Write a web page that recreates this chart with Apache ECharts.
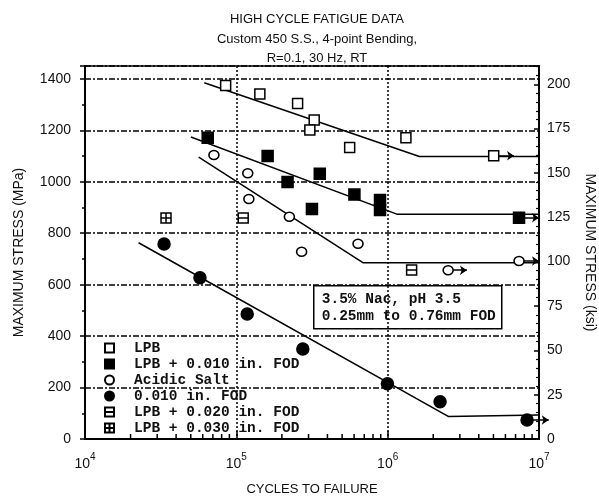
<!DOCTYPE html>
<html><head><meta charset="utf-8">
<script src="https://cdn.jsdelivr.net/npm/echarts@6/dist/echarts.min.js"></script>
<style>html,body{margin:0;padding:0;background:#fff}#c{width:599px;height:502px}</style>
</head><body><div id="c"></div>
<script>
// ---- data (cycles, MPa) ----
const lpb      = [[8.5e4,1374],[1.43e5,1341],[2.54e5,1304],[3.27e5,1240],[3.06e5,1201],[5.61e5,1133],[1.32e6,1171],[5.02e6,1101]];
const lpbFod10 = [[6.47e4,1171],[1.61e5,1100],[2.18e5,999],[3.56e5,1031],[3.16e5,894],[6.03e5,950],[8.9e5,929],[8.9e5,890],[7.38e6,860]];
const acidic   = [[7.11e4,1104],[1.19e5,1033],[1.21e5,933],[2.24e5,864],[2.70e5,728],[6.37e5,759],[2.51e6,656],[7.38e6,692]];
const fod10    = [[3.33e4,758],[5.75e4,627],[1.18e5,486],[2.75e5,350],[9.96e5,215],[2.22e6,145],[8.34e6,74]];
const lpbFod20 = [[1.11e5,859],[1.44e6,657]];
const lpbFod30 = [[3.43e4,859]];
// fitted curves (vertices)
const fitLpb      = [[6.14e4,1385],[1.62e6,1098],[1e7,1098]];
const fitLpbFod10 = [[5.01e4,1174],[1.15e6,874],[1e7,874]];
const fitAcidic   = [[5.64e4,1096],[6.9e5,685],[1e7,685]];
const fitFod10    = [[2.26e4,763],[2.53e6,87],[1e7,93]];
// run-out arrows: [start cycles, MPa, end cycles]
const runouts = [[5.02e6,1101,6.84e6],[7.38e6,860,1e7],[2.51e6,656,3.34e6],[7.38e6,692,1e7],[8.34e6,74,1.16e7]];
// axes
const xDecades = [4,5,6,7];
const yMax = 1450;
const MPA_PER_KSI = 6.894757;
const legendNames = ['LPB','LPB + 0.010 in. FOD','Acidic Salt','0.010 in. FOD','LPB + 0.020 in. FOD','LPB + 0.030 in. FOD'];
const title = 'HIGH CYCLE FATIGUE DATA\nCustom 450 S.S., 4-point Bending,\nR=0.1, 30 Hz, RT';
const note = '3.5% Nac, pH 3.5\n0.25mm to 0.76mm FOD';

const minorTicks = [];
for (let d = xDecades[0]; d < xDecades[xDecades.length-1]; d++) {
  for (let m = 2; m <= 9; m++) minorTicks.push(m * Math.pow(10, d));
}

const chart = echarts.init(document.getElementById('c'));
const monoFont = '"Liberation Mono", monospace';
const sansFont = '"Liberation Sans", Arial, sans-serif';
const blk = '#000';

function scatter(name, data, symbol, size, fill) {
  return {
    name, type: 'scatter', data, symbol, symbolSize: size, z: 5,
    itemStyle: { color: fill, borderColor: blk, borderWidth: 1.5, opacity: 1 },
    emphasis: { disabled: true }, silent: true
  };
}
function fit(data) {
  return { type: 'line', data, showSymbol: false, symbol: 'none', z: 3, silent: true,
    lineStyle: { color: blk, width: 1.5 }, clip: false };
}

chart.setOption({
  animation: false,
  backgroundColor: '#fff',
  title: {
    text: title, left: 312, top: 5, textAlign: 'center',
    textStyle: { fontFamily: sansFont, fontSize: 13, fontWeight: 'normal', color: '#111', lineHeight: 19.5 }
  },
  grid: { left: 85, right: 60, top: 66, bottom: 63, show: true, borderColor: blk, borderWidth: 1.5,
    backgroundColor: 'transparent', containLabel: false, outerBoundsMode: 'none' },
  legend: {
    data: legendNames, orient: 'vertical', left: 99, top: 335,
    itemWidth: 9, itemHeight: 9, itemGap: 0, selectedMode: false,
    textStyle: { fontFamily: monoFont, fontWeight: 'bold', fontSize: 14.5, color: '#111', lineHeight: 16, padding: [0,0,0,15] }
  },
  xAxis: {
    type: 'log', logBase: 10, min: Math.pow(10, xDecades[0]), max: Math.pow(10, xDecades[xDecades.length-1]),
    name: 'CYCLES TO FAILURE', nameLocation: 'middle', nameGap: 44,
    nameTextStyle: { fontFamily: sansFont, fontSize: 13, color: '#111' },
    axisLine: { lineStyle: { color: blk, width: 2 } },
    axisTick: { inside: true, length: 8, lineStyle: { color: blk, width: 1.5 } },
    minorTick: { show: false },
    axisLabel: {
      margin: 13, color: '#111', fontFamily: sansFont, fontSize: 14,
      formatter: v => '10{s|' + Math.round(Math.log10(v)) + '}',
      rich: { s: { fontSize: 10, fontFamily: sansFont, color: '#111', padding: [0,0,14,0] } }
    },
    splitLine: { show: true, lineStyle: { color: blk, width: 1.5, type: [2,2] } }
  },
  yAxis: [{
    type: 'value', min: 0, max: yMax, interval: 200,
    name: 'MAXIMUM STRESS (MPa)', nameLocation: 'middle', nameGap: 59,
    nameTextStyle: { fontFamily: sansFont, fontSize: 14, color: '#111' },
    axisLine: { show: true, lineStyle: { color: blk, width: 2 } },
    axisTick: { show: true, length: 5, lineStyle: { color: blk, width: 1.5 } },
    minorTick: { show: true, splitNumber: 2, length: 3, lineStyle: { color: blk, width: 1.5 } },
    axisLabel: { margin: 14, color: '#111', fontFamily: sansFont, fontSize: 14, showMaxLabel: false, formatter: v => String(v) },
    splitLine: { show: true, lineStyle: { color: blk, width: 1.5, type: [6,2,2,2] } }
  }, {
    type: 'value', position: 'right', min: 0, max: yMax / MPA_PER_KSI, interval: 25,
    name: 'MAXIMUM STRESS (ksi)', nameLocation: 'middle', nameGap: 44, nameRotate: -90,
    nameTextStyle: { fontFamily: sansFont, fontSize: 14, color: '#111' },
    axisLine: { show: true, lineStyle: { color: blk, width: 2 } },
    axisTick: { show: true, inside: true, length: 5, lineStyle: { color: blk, width: 1.5 } },
    minorTick: { show: true, splitNumber: 5, length: 3, lineStyle: { color: blk, width: 1.2 } },
    axisLabel: { margin: 8, color: '#111', fontFamily: sansFont, fontSize: 14, showMaxLabel: false, formatter: v => String(v) },
    splitLine: { show: false }
  }],
  graphic: [{
    type: 'group', left: 313, top: 285, z: 10,
    children: [
      { type: 'rect', shape: { x: 0, y: 0, width: 188, height: 43 }, style: { fill: '#fff', stroke: blk, lineWidth: 1.5 } },
      { type: 'text', x: 8, y: 5, style: { text: note, font: 'bold 14.5px ' + monoFont, fill: '#111', lineHeight: 17 } }
    ]
  }],
  series: [
    scatter(legendNames[0], lpb, 'rect', 10, '#fff'),
    scatter(legendNames[1], lpbFod10, 'rect', 11, blk),
    scatter(legendNames[2], acidic, 'circle', [10,9], '#fff'),
    scatter(legendNames[3], fod10, 'circle', 12, blk),
    scatter(legendNames[4], lpbFod20, 'path://M0,0L10,0L10,10L0,10Z M0,5L10,5', 10, '#fff'),
    scatter(legendNames[5], lpbFod30, 'path://M0,0L10,0L10,10L0,10Z M0,5L10,5 M5,0L5,10', 10, '#fff'),
    fit(fitLpb), fit(fitLpbFod10), fit(fitAcidic), fit(fitFod10),
    {
      type: 'lines', coordinateSystem: 'cartesian2d', silent: true, z: 2, clip: false,
      data: runouts.map(r => ({ coords: [[r[0], r[1]], [r[2], r[1]]] })),
      symbol: ['none', 'arrow'], symbolSize: [0, 7],
      lineStyle: { color: blk, width: 1.5, opacity: 1 }
    },
    {
      type: 'custom', silent: true, z: 4, clip: false,
      data: minorTicks.map(v => [v, 0]),
      renderItem: (params, api) => {
        const p = api.coord([api.value(0), 0]);
        return { type: 'line', shape: { x1: p[0], y1: p[1], x2: p[0], y2: p[1] - 5 }, style: { stroke: blk, lineWidth: 1.5 } };
      }
    }
  ]
});
</script>
</body></html>
